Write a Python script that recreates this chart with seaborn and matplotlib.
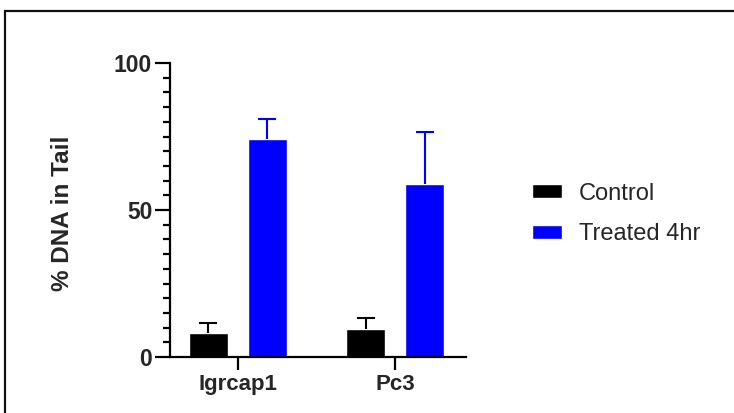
import matplotlib
matplotlib.use("Agg")
import matplotlib.pyplot as plt
import seaborn as sns
import pandas as pd
import numpy as np
from matplotlib.patches import Rectangle

# ---- data ----
genes = ["Igrcap1", "Pc3"]
groups = ["Control", "Treated 4hr"]
control_mean = [8.3, 9.4]
control_sem = [3.4, 4.0]
treated_mean = [74.1, 59.0]
treated_sem = [7.0, 17.7]
colors = ["#000000", "#0000FF"]
y_ticks = [0, 50, 100]
y_minor_ticks = list(range(0, 101, 5))

sns.set_style("ticks")
plt.rcParams['font.family'] = ['Liberation Sans', 'DejaVu Sans']

df = pd.DataFrame({
    "gene": genes * 2,
    "group": [groups[0]] * len(genes) + [groups[1]] * len(genes),
    "value": control_mean + treated_mean,
    "sem": control_sem + treated_sem,
})

fig = plt.figure(figsize=(7.34, 4.13), dpi=100)
ax = fig.add_axes([170 / 734, 1 - 357 / 413, 296 / 734, 294 / 413])

sns.barplot(data=df, x="gene", y="value", hue="group", order=genes,
            hue_order=groups, palette=colors, errorbar=None, width=0.752,
            gap=0.34, saturation=1, ax=ax)

# upward-only error bars
for cont, grp, col in zip(ax.containers, groups, colors):
    sub = df[df.group == grp].set_index("gene").loc[genes]
    xs = [b.get_x() + b.get_width() / 2 for b in cont]
    hs = [b.get_height() for b in cont]
    eb = ax.errorbar(xs, hs, yerr=[np.zeros(len(xs)), sub["sem"].values],
                     fmt="none", ecolor=col, elinewidth=1.5, capsize=6.5,
                     capthick=1.5, zorder=3)
    caps = eb[1]
    if len(caps) == 2:
        caps[0].remove()

ax.spines[["top", "right"]].set_visible(False)
for s in ["left", "bottom"]:
    ax.spines[s].set_linewidth(1.6)
    ax.spines[s].set_color("black")

ax.set_xlabel("")
ax.set_ylabel("% DNA in Tail", fontsize=17.5, fontweight="bold")
ax.yaxis.set_label_coords(-0.326, 0.49)

handles, labels = ax.get_legend_handles_labels()
ax.legend(handles, labels, loc="center left",
          bbox_to_anchor=(532 / 734, 1 - 214 / 413),
          bbox_transform=fig.transFigure, frameon=False, fontsize=17,
          handlelength=1.25, handleheight=0.55, handletextpad=0.75,
          labelspacing=0.8, borderpad=0, borderaxespad=0)

fig.add_artist(Rectangle((5 / 734, -0.1), 1.2, (1 - 11 / 413) + 0.1,
                         transform=fig.transFigure, fill=False, lw=1.6,
                         ec="#111111"))

# axis limits and ticks last: every 5 units a tick, labels only at 0/50/100
ax.set_ylim(0, 100)
ax.set_xlim(-0.43, 1.45)
ax.set_yticks(y_minor_ticks,
              labels=[str(v) if v in y_ticks else "" for v in y_minor_ticks])
ax.yaxis.set_minor_locator(plt.NullLocator())
ax.xaxis.set_minor_locator(plt.NullLocator())
ax.tick_params(axis="y", which="major", length=5.4, width=1.6, labelsize=16.5,
               pad=7.4, color="black", left=True)
ax.tick_params(axis="x", which="major", length=9, width=1.6, labelsize=16,
               pad=3, color="black")
for lbl in ax.get_xticklabels() + ax.get_yticklabels():
    lbl.set_fontweight("bold")

fig.canvas.draw()
for t, v in zip(ax.yaxis.get_major_ticks(), y_minor_ticks):
    if v in y_ticks:
        t.tick1line.set_markersize(10.8)

fig.savefig("out.png", dpi=100)
